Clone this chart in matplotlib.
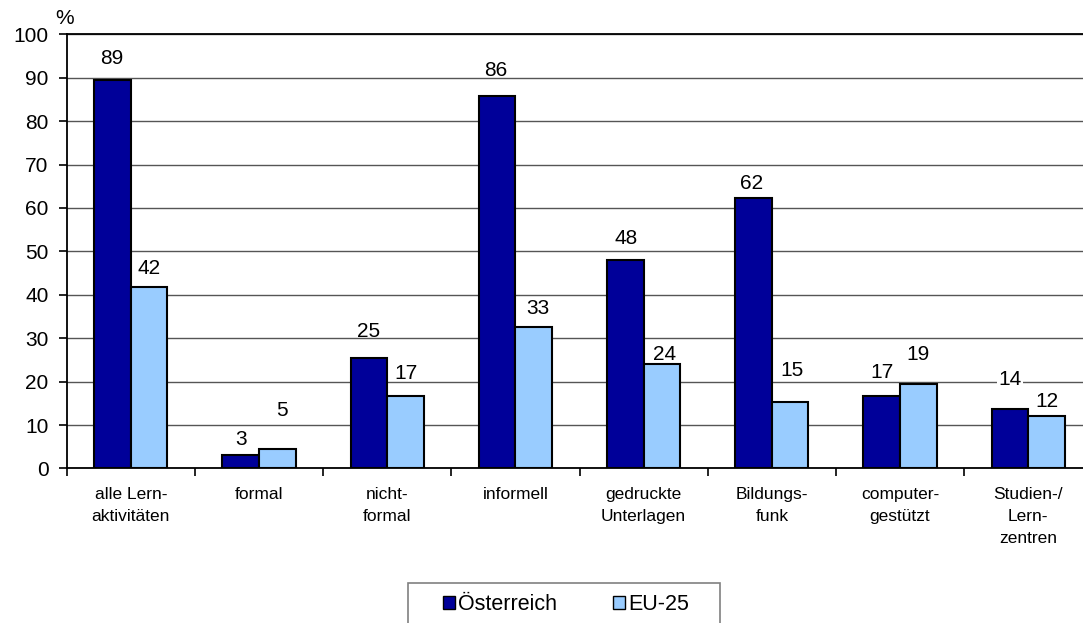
import matplotlib
matplotlib.use("Agg")
import matplotlib.pyplot as plt
import numpy as np
from matplotlib.patches import Patch, Rectangle

plt.rcParams['font.family'] = ['Liberation Sans', 'DejaVu Sans']

categories = ["alle Lern-\naktivitäten", "formal", "nicht-\nformal", "informell",
              "gedruckte\nUnterlagen", "Bildungs-\nfunk", "computer-\ngestützt",
              "Studien-/\nLern-\nzentren"]
oesterreich = [89.4, 3.0, 25.4, 85.8, 48.0, 62.3, 16.8, 13.8]
eu25 = [41.8, 4.6, 16.6, 32.6, 24.0, 15.4, 19.4, 12.1]
series_names = ["Österreich", "EU-25"]
yticks = list(range(0, 101, 10))

# where each value label sits: (dx, dy) in pixels from the bar's top centre
at_offsets = [(-1, 22), (0, 16), (0, 27), (-1, 25), (1, 22), (-2, 14), (0, 23), (0, 29)]
eu_offsets = [(0, 18), (5, 38), (1, 23), (4, 18), (3, 10), (2, 31), (0, 30), (0, 14)]

c_at = "#000099"
c_eu = "#99ccff"

fig = plt.figure(figsize=(10.83, 6.23), dpi=100)
ax = fig.add_axes([0.0616, 0.248, 0.947, 0.697])

x = np.arange(len(categories))
w = 0.285
b1 = ax.bar(x - w / 2, oesterreich, w, color=c_at, edgecolor="black", linewidth=1.5, zorder=3)
b2 = ax.bar(x + w / 2, eu25, w, color=c_eu, edgecolor="black", linewidth=1.5, zorder=3)

labels = []
for bars, vals, offs in [(b1, oesterreich, at_offsets), (b2, eu25, eu_offsets)]:
    for rect, v, (dx, dy) in zip(bars, vals, offs):
        labels.append(ax.annotate(f"{v:.0f}", (rect.get_x() + rect.get_width() / 2, v),
                                  xytext=(dx, dy), textcoords="offset pixels",
                                  ha="center", va="center", fontsize=15, zorder=4))

# the last Austrian label sits on a gridline and blanks it out
labels[7].set_bbox(dict(facecolor="white", edgecolor="none", pad=1))

ax.set_xlim(-0.5, 7.5)
ax.set_ylim(0, 100)
ax.set_yticks(yticks)
ax.yaxis.grid(True, color="#555555", linewidth=1.0, zorder=0)
ax.set_axisbelow(True)

# category boundaries carry the ticks, names sit centred in between
ax.set_xticks(np.arange(len(categories) + 1) - 0.5)
ax.set_xticklabels([])
ax.set_xticks(x, minor=True)
ax.set_xticklabels(categories, minor=True, fontsize=12.5, linespacing=1.6)
ax.tick_params(axis="x", which="minor", length=0, pad=13)
ax.tick_params(axis="x", which="major", length=6, width=1.2, direction="out")
ax.tick_params(axis="y", length=6, width=1.2, direction="out", labelsize=15, pad=7)

for s in ["left", "bottom", "top"]:
    ax.spines[s].set_linewidth(1.3)
    ax.spines[s].set_color("black")
ax.spines["right"].set_visible(False)

fig.text(65 / 1083, 1 - 19 / 623, "%", ha="center", va="center", fontsize=15)

# legend frame drawn separately so it can be wider than the entries need
W, H = 1083, 623
fig.patches.append(Rectangle((408 / W, 1 - 640 / H), 312 / W, 57 / H,
                             transform=fig.transFigure, facecolor="white",
                             edgecolor="#808080", linewidth=1.2, zorder=1))
handles = [Patch(facecolor=c_at, edgecolor="black", linewidth=1.0),
           Patch(facecolor=c_eu, edgecolor="black", linewidth=1.0)]
leg = fig.legend(handles, series_names, loc="center",
                 bbox_to_anchor=(566 / W, 1 - 605 / H), ncol=2,
                 fontsize=15.5, frameon=False,
                 handlelength=0.55, handleheight=0.55, handletextpad=0.15,
                 columnspacing=2.6, borderpad=0, borderaxespad=0)

fig.savefig("out.png", dpi=100)
